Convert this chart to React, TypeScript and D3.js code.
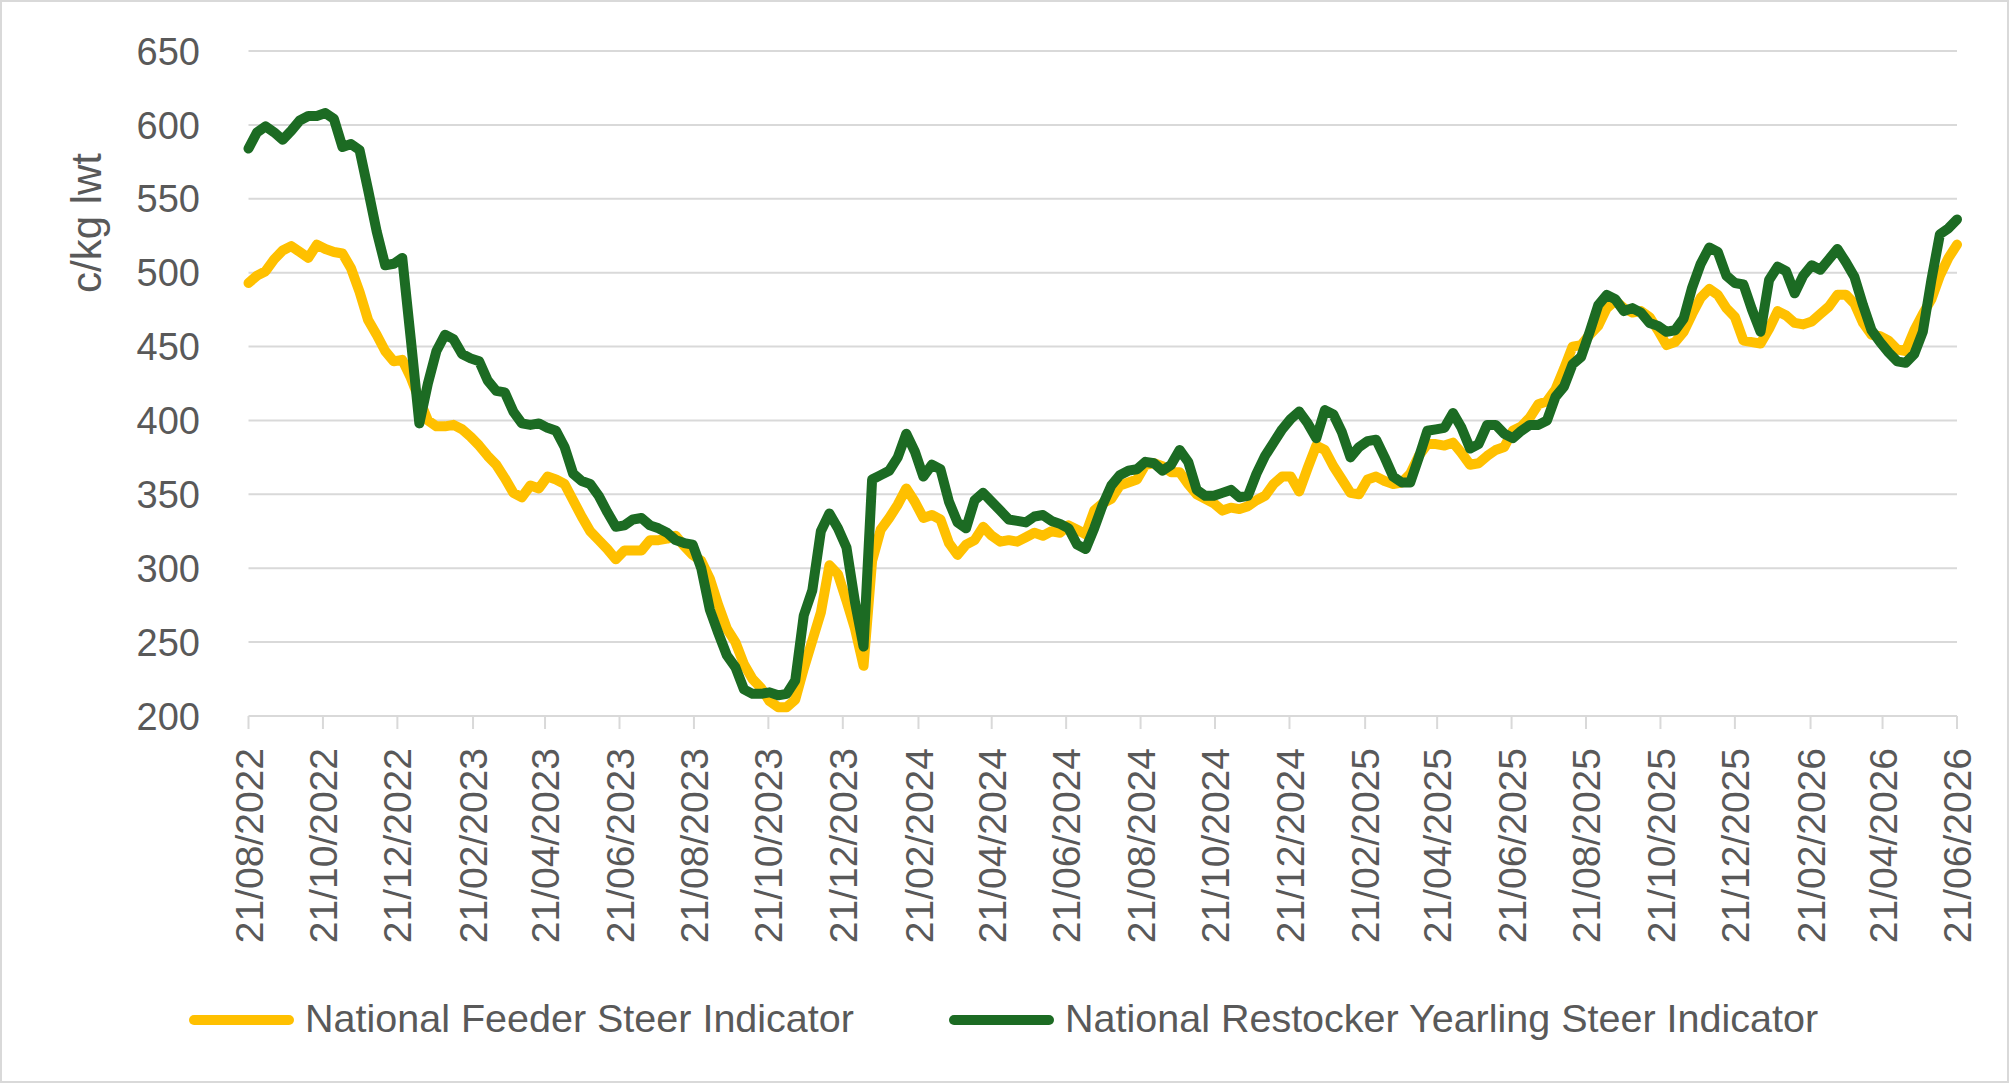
import React, { useRef, useEffect } from "react";
import * as d3 from "d3";

// fonts and colours
const fontFamily = "'Liberation Sans', Arial, sans-serif";
const textColor = "#595959";
const gridColor = "#d9d9d9";
const feederColor = "#ffc000";
const restockerColor = "#1c6b23";

const W = 2010;
const H = 1084;

// weekly series, first week 21/08/2022, last week 21/06/2026
const firstWeek = "21/08/2022";
const lastWeek = "21/06/2026";

const seriesNames = [
  "National Feeder Steer Indicator",
  "National Restocker Yearling Steer Indicator"
];

// c/kg lwt
const feeder = [
  493, 498, 501, 509, 515, 518, 514, 510, 519, 516,
  514, 513, 503, 487, 468, 458, 447, 440, 441, 429,
  414, 400, 396, 396, 397, 394, 389, 383, 376, 370,
  361, 351, 348, 356, 354, 362, 360, 357, 346, 335,
  325, 319, 313, 306, 312, 312, 312, 319, 319, 320,
  322, 315, 309, 305, 293, 275, 259, 250, 235, 225,
  219, 210, 206, 206, 211, 232, 251, 270, 302, 296,
  278, 259, 234, 305, 326, 334, 343, 354, 345, 334,
  336, 333, 317, 309, 316, 319, 328, 322, 318, 319,
  318, 321, 324, 322, 325, 324, 329, 326, 323, 339,
  344, 347, 356, 358, 360, 370, 371, 369, 365, 365,
  357, 350, 347, 344, 339, 341, 340, 342, 346, 349,
  357, 362, 362, 352, 368, 383, 380, 369, 360, 351,
  350, 360, 362, 359, 357, 358, 364, 376, 384, 384,
  383, 385, 378, 370, 371, 376, 380, 382, 393, 396,
  402, 411, 413, 421, 435, 450, 451, 458, 464, 476,
  481, 476, 473, 474, 470, 461, 451, 453, 460, 472,
  483, 489, 485, 476, 470, 454, 453, 452, 462, 474,
  471, 466, 465, 467, 472, 477, 485, 485, 479, 466,
  458, 457, 454, 448, 447, 461, 472, 482, 498, 510,
  519
];

const restocker = [
  584, 595, 599, 595, 590, 596, 603, 606, 606, 608,
  604, 585, 587, 583, 556, 528, 505, 506, 510, 455,
  398, 425, 447, 458, 455, 445, 442, 440, 427, 420,
  419, 406, 398, 397, 398, 395, 393, 382, 364, 359,
  357, 349, 338, 328, 329, 333, 334, 329, 327, 324,
  319, 317, 316, 300, 272, 256, 241, 233, 218, 215,
  215, 216, 214, 215, 224, 268, 285, 325, 337, 327,
  314, 277, 247, 360, 363, 366, 375, 391, 379, 362,
  370, 367, 345, 331, 327, 346, 351, 345, 339, 333,
  332, 331, 335, 336, 332, 330, 327, 316, 313, 327,
  343, 356, 363, 366, 367, 372, 371, 366, 370, 380,
  372, 353, 349, 349, 351, 353, 348, 349, 364, 376,
  385, 394, 401, 406, 398, 388, 407, 404, 392, 375,
  382, 386, 387, 375, 362, 358, 358, 375, 393, 394,
  395, 405, 395, 381, 384, 397, 397, 391, 388, 393,
  397, 397, 400, 416, 423, 438, 443, 460, 478, 485,
  482, 474, 476, 473, 466, 464, 460, 461, 469, 490,
  506, 517, 514, 498, 493, 492, 475, 460, 495, 504,
  501, 486, 498, 505, 502, 509, 516, 507, 497, 478,
  461, 453, 446, 440, 439, 445, 460, 495, 526, 530,
  536
];

const xTickLabels = [
  "21/08/2022", "21/10/2022", "21/12/2022", "21/02/2023", "21/04/2023",
  "21/06/2023", "21/08/2023", "21/10/2023", "21/12/2023", "21/02/2024",
  "21/04/2024", "21/06/2024", "21/08/2024", "21/10/2024", "21/12/2024",
  "21/02/2025", "21/04/2025", "21/06/2025", "21/08/2025", "21/10/2025",
  "21/12/2025", "21/02/2026", "21/04/2026", "21/06/2026"
];

const yTicks = [200, 250, 300, 350, 400, 450, 500, 550, 600, 650];

export default function App() {
  const ref = useRef<SVGSVGElement>(null);

  useEffect(() => {
    const parse = d3.utcParse("%d/%m/%Y");
    const start = parse(firstWeek) as Date;
    const end = parse(lastWeek) as Date;
    const weeks = d3.utcWeek.range(start, d3.utcDay.offset(end, 1));

    const plot = { left: 248.5, right: 1957, top: 51, bottom: 716 };

    const x = d3.scaleUtc().domain([start, end]).range([plot.left, plot.right]);
    const y = d3.scaleLinear().domain([200, 650]).range([plot.bottom, plot.top]);

    const svg = d3.select(ref.current);
    svg.selectAll("*").remove();

    svg.append("rect")
      .attr("width", W)
      .attr("height", H)
      .attr("fill", "#fff");

    // outer border
    svg.append("rect")
      .attr("x", 1)
      .attr("y", 1)
      .attr("width", W - 3)
      .attr("height", H - 3)
      .attr("fill", "none")
      .attr("stroke", gridColor)
      .attr("stroke-width", 2);

    // gridlines
    svg.append("g")
      .selectAll("line")
      .data(yTicks.filter(d => d > 200))
      .join("line")
      .attr("x1", plot.left)
      .attr("x2", plot.right)
      .attr("y1", d => y(d))
      .attr("y2", d => y(d))
      .attr("stroke", gridColor)
      .attr("stroke-width", 2);

    // x axis line + ticks
    svg.append("line")
      .attr("x1", plot.left)
      .attr("x2", plot.right)
      .attr("y1", y(200))
      .attr("y2", y(200))
      .attr("stroke", gridColor)
      .attr("stroke-width", 2);

    const tickDates = xTickLabels.map(s => parse(s) as Date);

    svg.append("g")
      .selectAll("line")
      .data(tickDates)
      .join("line")
      .attr("x1", d => x(d))
      .attr("x2", d => x(d))
      .attr("y1", y(200))
      .attr("y2", y(200) + 13)
      .attr("stroke", gridColor)
      .attr("stroke-width", 2);

    svg.append("g")
      .selectAll("text")
      .data(tickDates)
      .join("text")
      .attr("transform", d => `translate(${x(d)},748) rotate(-90)`)
      .attr("text-anchor", "end")
      .attr("dy", "0.36em")
      .attr("font-family", fontFamily)
      .attr("font-size", 39)
      .attr("fill", textColor)
      .text((d, i) => xTickLabels[i]);

    // y tick labels
    svg.append("g")
      .selectAll("text")
      .data(yTicks)
      .join("text")
      .attr("x", 200)
      .attr("y", d => y(d))
      .attr("dy", "0.36em")
      .attr("text-anchor", "end")
      .attr("font-family", fontFamily)
      .attr("font-size", 38)
      .attr("fill", textColor)
      .text(d => d);

    // y axis title
    svg.append("text")
      .attr("transform", "translate(101,223) rotate(-90)")
      .attr("text-anchor", "middle")
      .attr("font-family", fontFamily)
      .attr("font-size", 42)
      .attr("fill", textColor)
      .text("c/kg lwt");

    const line = d3.line<number>()
      .x((d, i) => x(weeks[i]))
      .y(d => y(d));

    const series = [
      { values: feeder, color: feederColor },
      { values: restocker, color: restockerColor }
    ];

    svg.append("g")
      .selectAll("path")
      .data(series)
      .join("path")
      .attr("d", d => line(d.values))
      .attr("fill", "none")
      .attr("stroke", d => d.color)
      .attr("stroke-width", 10)
      .attr("stroke-linejoin", "round")
      .attr("stroke-linecap", "round");

    // legend
    const legend = [
      { name: seriesNames[0], color: feederColor, x1: 194, x2: 289, tx: 305 },
      { name: seriesNames[1], color: restockerColor, x1: 954, x2: 1049, tx: 1065 }
    ];
    const lg = svg.append("g");
    lg.selectAll("line")
      .data(legend)
      .join("line")
      .attr("x1", d => d.x1)
      .attr("x2", d => d.x2)
      .attr("y1", 1020)
      .attr("y2", 1020)
      .attr("stroke", d => d.color)
      .attr("stroke-width", 10)
      .attr("stroke-linecap", "round");
    lg.selectAll("text")
      .data(legend)
      .join("text")
      .attr("x", d => d.tx)
      .attr("y", 1032)
      .attr("font-family", fontFamily)
      .attr("font-size", 39.5)
      .attr("fill", textColor)
      .text(d => d.name);
  }, []);

  return (
    <svg
      ref={ref}
      width={W}
      height={H}
      style={{ position: "absolute", left: 0, top: 0, display: "block" }}
    />
  );
}
